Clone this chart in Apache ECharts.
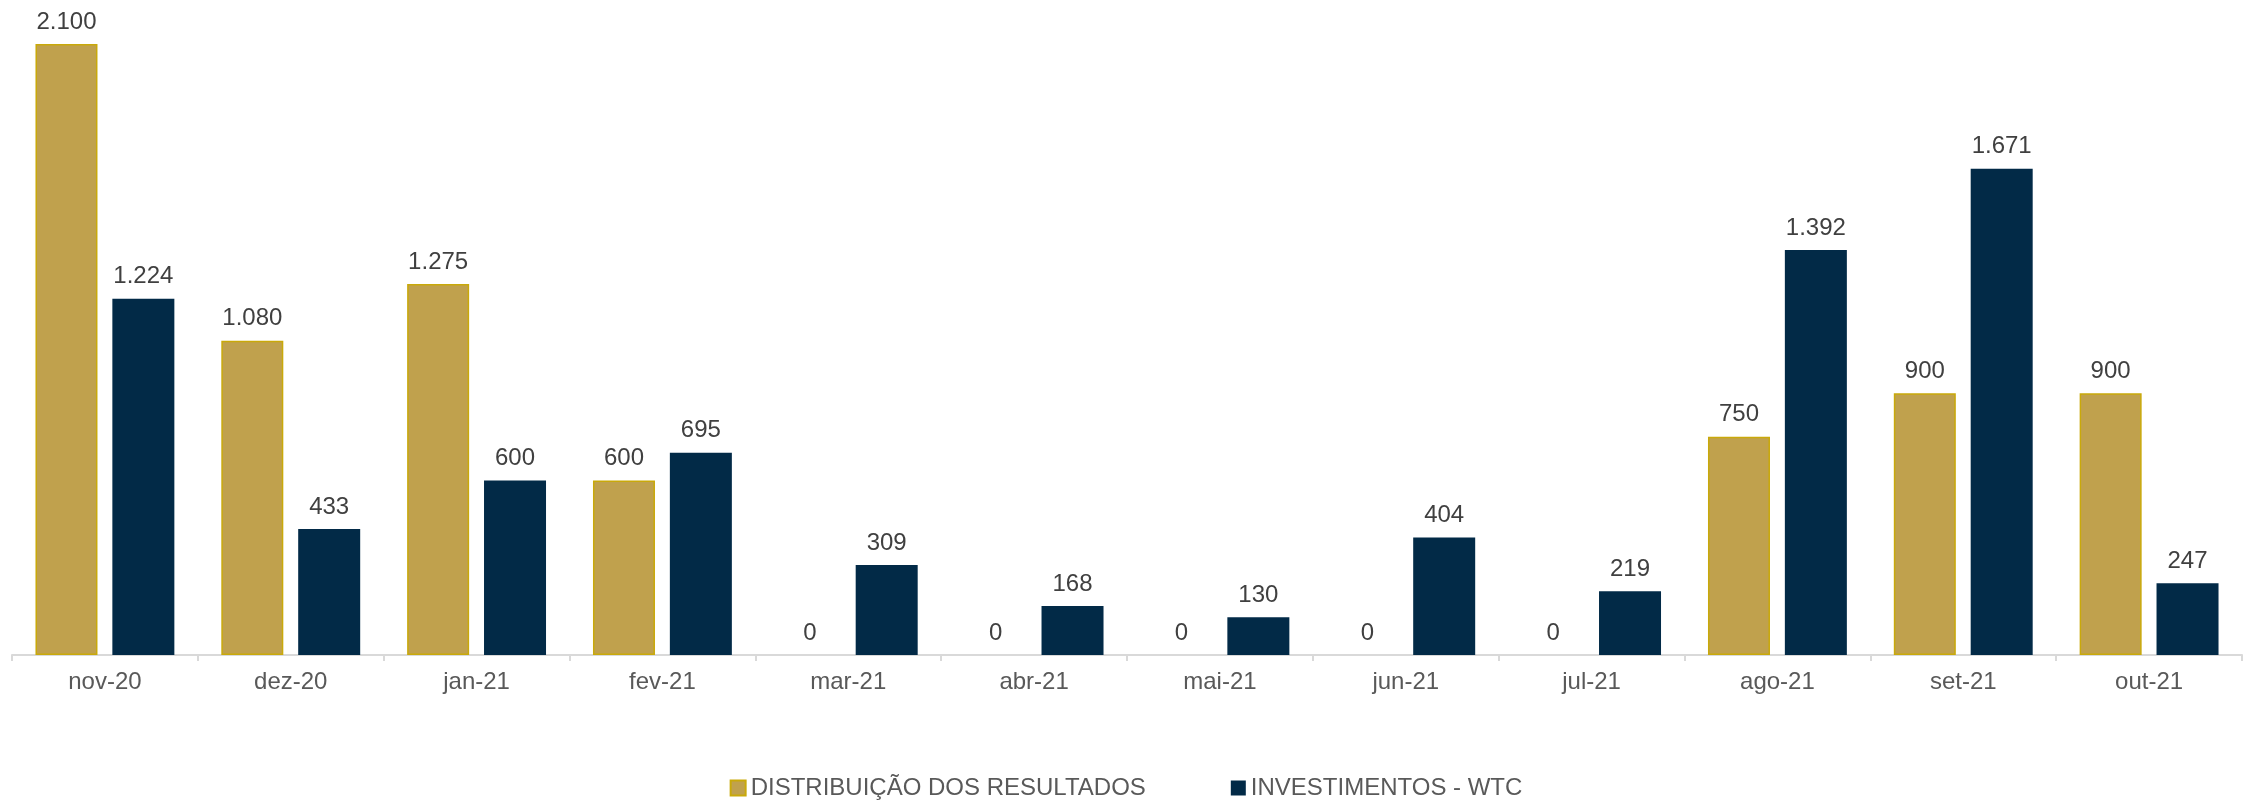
<!DOCTYPE html>
<html>
<head>
<meta charset="utf-8">
<script src="https://cdn.jsdelivr.net/npm/echarts@6/dist/echarts.min.js"></script>
<style>
  html, body { margin: 0; padding: 0; background: #fff; }
  #chart { width: 2252px; height: 809px; }
</style>
</head>
<body>
<div id="chart"></div>
<script>
  var categories = ['nov-20', 'dez-20', 'jan-21', 'fev-21', 'mar-21', 'abr-21',
    'mai-21', 'jun-21', 'jul-21', 'ago-21', 'set-21', 'out-21'];
  var distribuicao = [2100, 1080, 1275, 600, 0, 0, 0, 0, 0, 750, 900, 900];
  var investimentos = [1224, 433, 600, 695, 309, 168, 130, 404, 219, 1392, 1671, 247];

  // 2.100 style (pt-BR thousands)
  function fmt(p) {
    return String(p.value).replace(/\B(?=(\d{3})+(?!\d))/g, '.');
  }

  var labelStyle = {
    show: true,
    position: 'top',
    distance: 10,
    color: '#404040',
    fontSize: 24,
    fontFamily: 'Liberation Sans, Arial, sans-serif',
    formatter: fmt
  };

  // zero bars get no border, so nothing sticks out on the axis
  var goldData = distribuicao.map(function(v) {
    return v === 0 ? { value: v, itemStyle: { borderWidth: 0 } } : v;
  });

  var option = {
    animation: false,
    grid: { left: 12, right: 10, top: 44, bottom: 154 },
    legend: {
      bottom: 4,
      left: 'center',
      icon: 'rect',
      itemWidth: 15,
      itemHeight: 15,
      itemGap: 85,
      textStyle: {
        color: '#595959',
        fontSize: 24,
        fontFamily: 'Liberation Sans, Arial, sans-serif'
      },
      data: ['DISTRIBUIÇÃO DOS RESULTADOS', 'INVESTIMENTOS - WTC']
    },
    xAxis: {
      type: 'category',
      data: categories,
      axisLine: { lineStyle: { color: '#d9d9d9', width: 2 } },
      axisTick: { show: true, length: 6, lineStyle: { color: '#d9d9d9', width: 2 } },
      axisLabel: {
        color: '#595959',
        fontSize: 24,
        margin: 15,
        fontFamily: 'Liberation Sans, Arial, sans-serif'
      }
    },
    yAxis: {
      type: 'value',
      min: 0,
      max: 2100,
      show: false,
      splitLine: { show: false }
    },
    series: [
      {
        name: 'DISTRIBUIÇÃO DOS RESULTADOS',
        type: 'bar',
        data: goldData,
        barWidth: 62,
        barGap: '24%',
        itemStyle: { color: '#C0A14D', borderColor: '#C9A90A', borderWidth: 1.5 },
        label: labelStyle
      },
      {
        name: 'INVESTIMENTOS - WTC',
        type: 'bar',
        data: investimentos,
        barWidth: 62,
        itemStyle: { color: '#022A47' },
        label: labelStyle
      }
    ]
  };

  echarts.init(document.getElementById('chart')).setOption(option);
</script>
</body>
</html>
